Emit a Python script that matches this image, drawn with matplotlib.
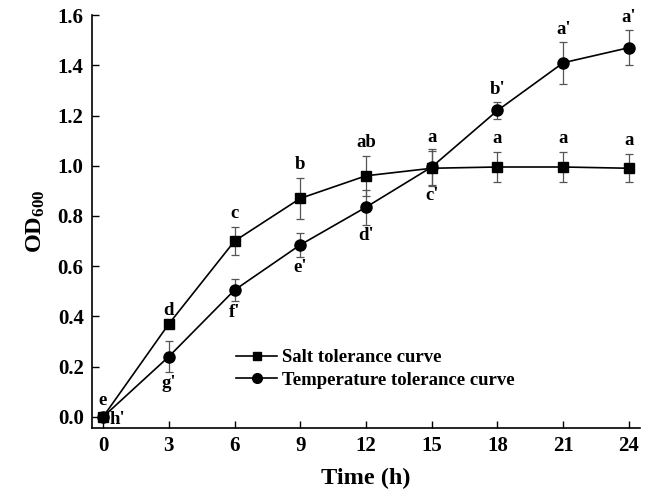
import matplotlib
matplotlib.use("Agg")
import matplotlib.pyplot as plt
from matplotlib.lines import Line2D

plt.rcParams["font.family"] = "Liberation Serif"
plt.rcParams["font.weight"] = "bold"
plt.rcParams["mathtext.fontset"] = "custom"
plt.rcParams["mathtext.bf"] = "Liberation Serif:bold"
plt.rcParams["mathtext.rm"] = "Liberation Serif:bold"
plt.rcParams["mathtext.default"] = "bf"

time_h = [0, 3, 6, 9, 12, 15, 18, 21, 24]

salt_od = [0.0, 0.37, 0.70, 0.87, 0.96, 0.99, 0.995, 0.995, 0.99]
salt_err = [0.0, 0.0, 0.055, 0.083, 0.08, 0.07, 0.06, 0.06, 0.055]
salt_letters = ["e", "d", "c", "b", "ab", "a", "a", "a", "a"]

temp_od = [0.0, 0.24, 0.505, 0.685, 0.835, 0.995, 1.22, 1.41, 1.47]
temp_err = [0.0, 0.063, 0.045, 0.048, 0.07, 0.07, 0.035, 0.083, 0.07]
temp_letters = ["h'", "g'", "f'", "e'", "d'", "c'", "b'", "a'", "a'"]
# letter goes above (1) or below (-1) the point; 0 = to the right
temp_side = [0, -1, -1, -1, -1, -1, 1, 1, 1]

fig = plt.figure(figsize=(6.53, 4.94), dpi=100)
ax = fig.add_axes([0.141, 0.1336, 0.839, 0.836])

ax.errorbar(time_h, salt_od, yerr=salt_err, color="black", marker="s", ms=7,
            lw=1.2, ecolor="#555555", elinewidth=0.9, capsize=3, capthick=0.9, zorder=3)
ax.errorbar(time_h, temp_od, yerr=temp_err, color="black", marker="o", ms=8,
            lw=1.2, ecolor="#555555", elinewidth=0.9, capsize=3, capthick=0.9, zorder=3)

fs_letter = 13.5
for x, y, e, t in zip(time_h, salt_od, salt_err, salt_letters):
    off = e + 0.02 if x > 0 else 0.03
    ax.text(x, y + off, t, ha="center", va="bottom", fontsize=fs_letter, fontweight="bold")

for x, y, e, t, s in zip(time_h, temp_od, temp_err, temp_letters, temp_side):
    if s == 0:
        ax.text(x + 0.3, y - 0.01, t, ha="left", va="center", fontsize=fs_letter, fontweight="bold")
    elif s > 0:
        ax.text(x, y + e + 0.015, t, ha="center", va="bottom", fontsize=fs_letter, fontweight="bold")
    else:
        ax.text(x, y - e - 0.01, t, ha="center", va="top", fontsize=fs_letter, fontweight="bold")

ax.set_xlim(-0.5, 24.5)
ax.set_ylim(-0.044, 1.6)
ax.set_xticks(time_h)
ax.set_yticks([0.0, 0.2, 0.4, 0.6, 0.8, 1.0, 1.2, 1.4, 1.6])
ax.yaxis.set_major_formatter(matplotlib.ticker.FormatStrFormatter("%.1f"))
ax.tick_params(direction="in", length=5, width=1, labelsize=15, pad=6)
for lab in ax.get_xticklabels() + ax.get_yticklabels():
    lab.set_fontweight("bold")

ax.spines["top"].set_visible(False)
ax.spines["right"].set_visible(False)
for sp in ("left", "bottom"):
    ax.spines[sp].set_linewidth(1.2)

ax.set_xlabel("Time (h)", fontsize=17.5, fontweight="bold", labelpad=8)
ax.set_ylabel(r"$\mathbf{OD}_{\mathbf{600}}$", fontsize=17.5, labelpad=8)

handles = [
    Line2D([], [], color="black", marker="s", ms=6, lw=1.2),
    Line2D([], [], color="black", marker="o", ms=7, lw=1.2),
]
ax.legend(handles, ["Salt tolerance curve", "Temperature tolerance curve"],
          loc="upper left", bbox_to_anchor=(0.232, 0.232), frameon=False,
          prop={"family": "Liberation Serif", "weight": "bold", "size": 13.5},
          handlelength=2.2, handletextpad=0.25, labelspacing=0.3)

fig.savefig("out.png", dpi=100)
